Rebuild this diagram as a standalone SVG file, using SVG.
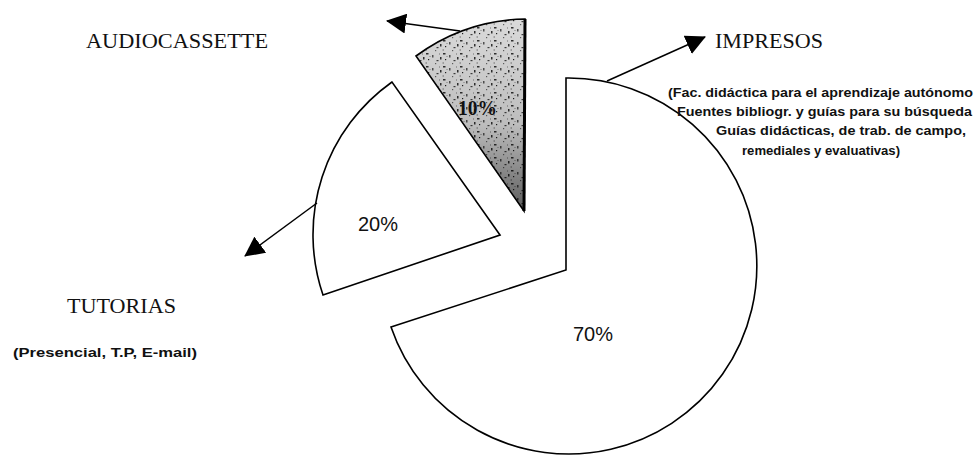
<svg xmlns="http://www.w3.org/2000/svg" width="975" height="455" viewBox="0 0 975 455">
<style>
.slice{stroke:#000;stroke-width:1.6;stroke-linejoin:miter}
.head{font-family:"Liberation Serif","Times New Roman",serif;font-size:22px;fill:#111}
.sub{font-family:"Liberation Sans",Arial,sans-serif;font-weight:bold;font-size:12px;fill:#111}
.pct{font-family:"Liberation Sans",Arial,sans-serif;font-size:20px;fill:#111}
.conn{stroke:#000;stroke-width:1.5;fill:none}
</style>
<defs>
<marker id="ah" viewBox="0 0 20 20" markerWidth="20" markerHeight="20" refX="19" refY="10" orient="auto" markerUnits="userSpaceOnUse">
<path d="M0,0 L20,10 L0,20 Z" fill="#000"/>
</marker>
<pattern id="stip" width="17" height="13" patternUnits="userSpaceOnUse">
<rect width="17" height="13" fill="#e6e6e6"/>
<rect x="1" y="1" width="2.5" height="1.5" fill="#333"/>
<rect x="7" y="3" width="1.5" height="2.5" fill="#555"/>
<rect x="3" y="7" width="1.2" height="1.2" fill="#222"/>
<rect x="11.5" y="8" width="2" height="1.2" fill="#444"/>
<rect x="14" y="1.5" width="1" height="1" fill="#777"/>
<rect x="4.5" y="4" width="1" height="1" fill="#888"/>
<rect x="10" y="11" width="1.2" height="1.2" fill="#666"/>
<rect x="15" y="5" width="1.5" height="2.5" fill="#333"/>
<rect x="0.5" y="10.5" width="1.5" height="1" fill="#777"/>
</pattern>
<linearGradient id="shade" x1="0" y1="0" x2="0" y2="1">
<stop offset="0" stop-color="#000" stop-opacity="0.05"/>
<stop offset="0.55" stop-color="#000" stop-opacity="0.18"/>
<stop offset="1" stop-color="#000" stop-opacity="0.6"/>
</linearGradient>
</defs>

<g id="slice-10">
<path class="slice" d="M524,211 L416,56 A190,190 0 0 1 525,19 Z" fill="url(#stip)"/>
<path d="M524,211 L416,56 A190,190 0 0 1 525,19 Z" fill="url(#shade)"/>
<path d="M525,19 L524,211" stroke="#000" stroke-width="3"/>
<text x="458" y="115" font-family="'Liberation Serif','Times New Roman',serif" font-weight="bold" font-size="22" textLength="39" lengthAdjust="spacingAndGlyphs" fill="#111">10%</text>
</g>

<g id="slice-20">
<path class="slice" d="M500,235 L392,82 A187,187 0 0 0 323,295 Z" fill="#fff"/>
<text class="pct" x="358" y="231">20%</text>
</g>

<g id="slice-70">
<path class="slice" d="M566,270 L566,78 A188,188 0 1 1 391,327 Z" fill="#fff"/>
<text class="pct" x="573" y="341">70%</text>
</g>

<g id="label-audiocassette">
<text class="head" x="86" y="48" textLength="182" lengthAdjust="spacingAndGlyphs">AUDIOCASSETTE</text>
</g>

<g id="label-impresos">
<text class="head" x="715" y="48" textLength="108" lengthAdjust="spacingAndGlyphs">IMPRESOS</text>
<text class="sub" x="668" y="97" textLength="305" lengthAdjust="spacingAndGlyphs">(Fac. didáctica para el aprendizaje autónomo</text>
<text class="sub" x="677" y="116" textLength="295" lengthAdjust="spacingAndGlyphs">Fuentes bibliogr. y guías para su búsqueda</text>
<text class="sub" x="716" y="135" textLength="250" lengthAdjust="spacingAndGlyphs">Guías didácticas, de trab. de campo,</text>
<text class="sub" x="742" y="155" textLength="158" lengthAdjust="spacingAndGlyphs">remediales y evaluativas)</text>
</g>

<g id="label-tutorias">
<text class="head" x="67" y="313" textLength="109" lengthAdjust="spacingAndGlyphs">TUTORIAS</text>
<text class="sub" x="13" y="357" font-size="15" textLength="184" lengthAdjust="spacingAndGlyphs">(Presencial, T.P, E-mail)</text>
</g>

<g id="connectors">
<line class="conn" x1="460" y1="31" x2="387" y2="21" marker-end="url(#ah)"/>
<line class="conn" x1="607" y1="81" x2="705" y2="37" marker-end="url(#ah)"/>
<line class="conn" x1="317" y1="203" x2="245" y2="256" marker-end="url(#ah)"/>
</g>
</svg>
